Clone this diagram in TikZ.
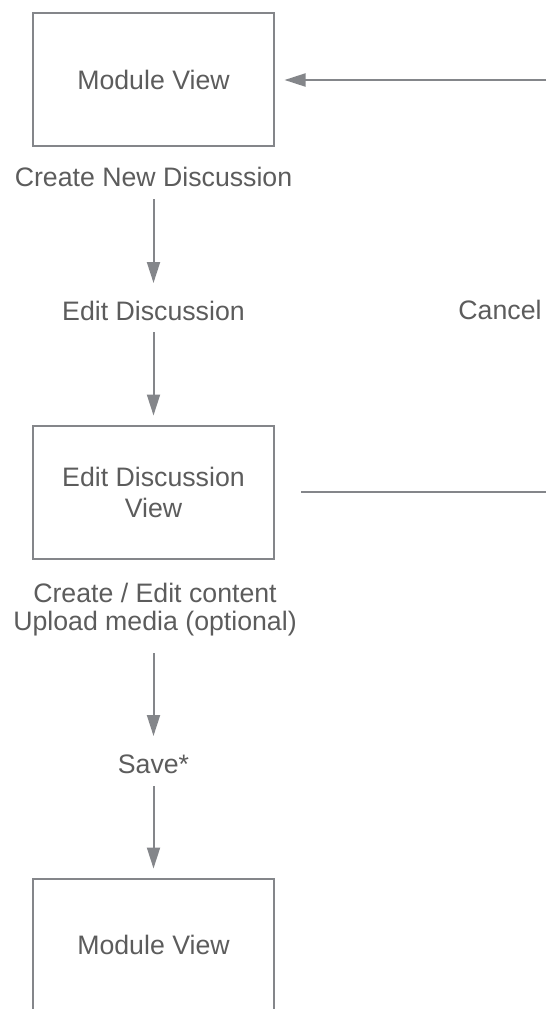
\documentclass[tikz,border=0pt]{standalone}
\usepackage{fontspec}
\setmainfont{Liberation Sans}
\usetikzlibrary{arrows.meta}
\definecolor{linegray}{RGB}{132,134,138}
\definecolor{textgray}{RGB}{92,92,92}
\begin{document}
\begin{tikzpicture}[x=1pt,y=-1pt,
  every node/.style={text=textgray, font=\fontsize{26.7}{31}\selectfont},
  viewbox/.style={draw=linegray, line width=2pt, minimum width=241pt,
    minimum height=133pt, inner sep=0pt, align=center},
  caption/.style={anchor=base, inner sep=0pt},
  flow/.style={draw=linegray, line width=2pt,
    -{Triangle[length=21pt,width=13pt]}},
  plainline/.style={draw=linegray, line width=2pt}]
\useasboundingbox (0,0) rectangle (546,1009);

% screens
\node[viewbox] (b1) at (153.5,79.5) {Module View};
\node[viewbox] (b2) at (153.5,492) {Edit Discussion\\View};
\node[viewbox] (b3) at (153.5,945) {Module View};

% actions
\node[caption] (l1) at (153.5,186) {Create New Discussion};
\node[caption] (l2) at (153.5,320) {Edit Discussion};
\node[caption] (cancel) at (500,319.5) {Cancel};
\node[caption] (l3a) at (155,602) {Create / Edit content};
\node[caption] (l3b) at (155,630) {Upload media (optional)};
\node[caption] (save) at (153.5,773) {Save*};

% loose ends of the cancel loop
\coordinate (ret) at (546,80);
\coordinate (out) at (546,492);

% main flow
\draw[flow, shorten <=13pt, shorten >=37pt] (l1.base) -- (l2.base);
\draw[flow, shorten <=12pt, shorten >=9pt] (l2.base) -- (b2.north);
\draw[flow, shorten <=23pt, shorten >=37pt] (l3b.base -| save.base) -- (save.base);
\draw[flow, shorten <=13pt, shorten >=9pt] (save.base) -- (b3.north);

% cancel loop back to the module view
\draw[plainline, shorten <=26pt] (b2.east) -- (out);
\draw[flow, shorten >=9.5pt] (ret) -- (ret -| b1.east);
\end{tikzpicture}
\end{document}
